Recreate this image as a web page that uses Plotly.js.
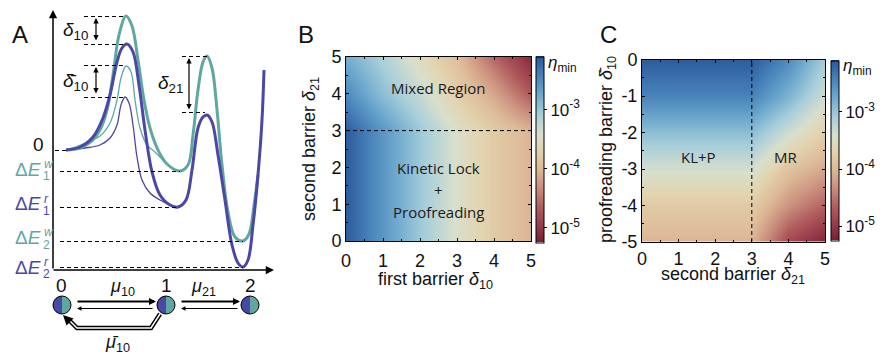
<!DOCTYPE html>
<html><head><meta charset="utf-8">
<script src="https://cdn.plot.ly/plotly-3.0.1.min.js"></script>
<style>html,body{margin:0;padding:0;background:#fff}</style>
</head><body><div id="chart" style="width:880px;height:356px"></div>
<script>
// ---------- Panel B data: log10(eta_min) vs first barrier (x) and second barrier (y)
const delta10 = [0, 1, 2, 3, 4, 5];
const delta21 = [0, 1, 2, 3, 4, 5];
const logEtaB = [
  [-2.15, -2.6, -3.05, -3.45, -3.8, -4.05],
  [-2.15, -2.6, -3.05, -3.45, -3.8, -4.05],
  [-2.15, -2.6, -3.05, -3.45, -3.8, -4.05],
  [-2.15, -2.6, -3.05, -3.45, -3.8, -4.05],
  [-2.5, -2.95, -3.3, -3.75, -4.15, -4.7],
  [-2.8, -3.15, -3.55, -3.95, -4.6, -5.15]
];
// ---------- Panel C data: log10(eta_min) vs second barrier (x) and proofreading barrier (y)
const delta21C = [0, 1, 2, 3, 4, 5];
const deltaBar10 = [-5, -4, -3, -2, -1, 0];
const logEtaC = [
  [-4.05, -4.05, -4.05, -4.05, -4.85, -5.2],
  [-3.8, -3.8, -3.8, -3.8, -4.3, -4.65],
  [-3.4, -3.4, -3.4, -3.4, -3.9, -4.15],
  [-2.95, -2.95, -2.95, -2.95, -3.35, -3.75],
  [-2.45, -2.45, -2.45, -2.45, -2.85, -3.35],
  [-2.15, -2.15, -2.15, -2.15, -2.5, -3.1]
];
const cbTickVals = [-3, -4, -5];
const cbTickText = ['10<sup>-3</sup>', '10<sup>-4</sup>', '10<sup>-5</sup>'];
const axisTicks = [0, 1, 2, 3, 4, 5];
const axisTickText = ['0', '1', '2', '3', '4', '5'];
const cTickVals = [-5, -4, -3, -2, -1, 0];
const cTickText = ['-5', '-4', '-3', '-2', '-1', '0'];

// ---------- Panel A: energy landscape (reaction coordinate, energy in arbitrary units)
const wrongX  = [66,80,92,100,107,113,119,126,132,138,144,150,158,167,180,188,193,198,203,207,212,217,222,228,235,243,249,254,258];
const wrongE  = [0,0.2,0.9,2.0,4.0,7.5,11.5,13.4,12.4,9.0,5.0,2.2,0,-1.4,-2.1,-1.5,1.5,6.0,8.8,9.4,8.2,4.0,-1.5,-6.2,-8.7,-9.1,-8.4,-5.5,-2.5];
const rightX  = [66,80,93,103,110,117,122,127,133,139,145,152,160,170,178,186,192,198,203,207,212,218,225,232,238,243,248,253,258,262,264];
const rightE  = [0,0.3,1.3,3.2,5.5,8.8,10.2,10.6,9.8,6.5,2.0,-2.2,-4.5,-5.5,-5.7,-5.0,-2.0,2.2,3.3,3.5,2.8,-0.5,-5.0,-9.5,-11.3,-11.7,-11.0,-7.5,-2.5,3.0,8.0];
const wrongPX = [66,83,100,110,117,121,126,131,135,140,147,155,163,172,180];
const wrongPE = [0,0.6,1.4,2.7,5.0,7.2,8.4,7.8,5.0,2.2,0.5,-0.2,-1.0,-1.8,-2.1];
const rightPX = [66,85,100,110,117,121,125,129,133,137,142,150,160,170,178];
const rightPE = [0,0.2,0.5,1.2,2.5,4.5,5.3,4.7,2.5,-0.7,-3.0,-4.3,-5.0,-5.5,-5.7];
const stateX = [62, 166, 250];
const stateLabels = ['0', '1', '2'];

const TEAL = '#5fa8a1', PURPLE = '#4b47a6';
const E = py => (150 - py) / 10;           // layout helper: pixel row -> landscape unit
const FONT = 'Liberation Sans, Arial, sans-serif';

const cscale = [
  [0, '#7a2035'], [0.08, '#953848'], [0.18, '#b05a5c'], [0.3, '#cc9280'],
  [0.4, '#debb98'], [0.5, '#e3d4b0'], [0.58, '#d8dfcc'], [0.68, '#a8cfda'],
  [0.8, '#6aa6cc'], [0.9, '#4680b8'], [1, '#285698']
];

function cbar(x, y, len) {
  return {x: x, xanchor: 'left', xpad: 0, ypad: 0, y: y, yanchor: 'middle', len: len,
    lenmode: 'fraction', thickness: 8, outlinewidth: 1, outlinecolor: '#000',
    tickvals: cbTickVals, ticktext: cbTickText, ticks: 'outside', ticklen: 3,
    tickcolor: '#000', tickfont: {family: FONT, size: 17, color: '#111'}};
}

const traces = [
  {type: 'heatmap', x: delta10, y: delta21, z: logEtaB, xaxis: 'x', yaxis: 'y',
   colorscale: cscale, zmin: -5.25, zmax: -2.1, zsmooth: 'best',
   colorbar: cbar(536/880, 1 - 149.5/356, 186/356), hoverinfo: 'skip'},
  {type: 'heatmap', x: delta21C, y: deltaBar10, z: logEtaC, xaxis: 'x2', yaxis: 'y2',
   colorscale: cscale, zmin: -5.25, zmax: -2.1, zsmooth: 'best',
   colorbar: cbar(831/880, 1 - 150.5/356, 180/356), hoverinfo: 'skip'},
  {type: 'scatter', mode: 'lines', x: wrongPX, y: wrongPE, xaxis: 'x3', yaxis: 'y3',
   line: {color: TEAL, width: 1.3, shape: 'spline'}},
  {type: 'scatter', mode: 'lines', x: rightPX, y: rightPE, xaxis: 'x3', yaxis: 'y3',
   line: {color: PURPLE, width: 1.3, shape: 'spline'}},
  {type: 'scatter', mode: 'lines', x: wrongX, y: wrongE, xaxis: 'x3', yaxis: 'y3',
   line: {color: TEAL, width: 3, shape: 'spline'}},
  {type: 'scatter', mode: 'lines', x: rightX, y: rightE, xaxis: 'x3', yaxis: 'y3',
   line: {color: PURPLE, width: 3, shape: 'spline'}}
];

function hmAxis(domain, anchor, vals, text, standoff) {
  return {domain: domain, anchor: anchor, range: [Math.min(...vals), Math.max(...vals)],
    tickvals: vals, ticktext: text, ticks: 'inside', ticklen: 3, tickcolor: '#000',
    ticklabelstandoff: standoff || 0,
    showline: true, linecolor: '#000', linewidth: 1, mirror: 'ticks',
    showgrid: false, zeroline: false, tickfont: {family: FONT, size: 18, color: '#111'},
    minor: {ticks: 'inside', ticklen: 2, tickcolor: '#000', dtick: 0.5}};
}

const shapes = [];
const ann = [];
const dash = (x0, y0, x1, y1, ref) => shapes.push({type: 'line', xref: ref[0], yref: ref[1],
  x0: x0, y0: y0, x1: x1, y1: y1, line: {color: '#000', width: 1, dash: '4px,3px'}});

// heatmap boundaries
dash(0, 3, 5, 3, ['x', 'y']);
dash(3, -5, 3, 0, ['x2', 'y2']);

// Panel A dashed levels
const A = ['x3', 'y3'];
dash(55, E(150.5), 67, E(150.5), A);
dash(60, E(171.5), 180, E(171.5), A);
dash(60, E(207.5), 178, E(207.5), A);
dash(60, E(241.5), 243, E(241.5), A);
dash(60, E(267.5), 243, E(267.5), A);
dash(84, E(16.5), 126, E(16.5), A);
dash(84, E(44.5), 126, E(44.5), A);
dash(84, E(65.5), 124, E(65.5), A);
dash(84, E(97.5), 124, E(97.5), A);
dash(182, E(56.5), 207, E(56.5), A);
dash(182, E(112.5), 205, E(112.5), A);

// state circles
const K = 0.5523;
stateX.forEach(cx => {
  const r = 9, cy = 305;
  shapes.push({type: 'circle', xref: 'x3', yref: 'y3', x0: cx - r, x1: cx + r,
    y0: E(cy + r), y1: E(cy - r), fillcolor: TEAL, line: {width: 0}});
  const yt = E(cy - r), ym = E(cy), yb = E(cy + r), rk = K * r, rE = K * r / 10;
  shapes.push({type: 'path', xref: 'x3', yref: 'y3', fillcolor: PURPLE, line: {width: 0},
    path: `M ${cx},${yt} C ${cx - rk},${yt} ${cx - r},${ym + rE} ${cx - r},${ym} C ${cx - r},${ym - rE} ${cx - rk},${yb} ${cx},${yb} Z`});
  shapes.push({type: 'circle', xref: 'x3', yref: 'y3', x0: cx - r, x1: cx + r,
    y0: E(cy + r), y1: E(cy - r), line: {color: '#000', width: 1}});
});
// proofreading path (double line)
const pp = `M 160,${E(314)} L 151,${E(328)} L 77,${E(328)} L 69,${E(320)}`;
shapes.push({type: 'path', xref: 'x3', yref: 'y3', path: pp, line: {color: '#000', width: 4.5}});
shapes.push({type: 'path', xref: 'x3', yref: 'y3', path: pp, line: {color: '#fff', width: 1.5}});

const arrow = (x, y, ax, ay, w, size, both) => ann.push({xref: 'x3', yref: 'y3', axref: 'x3', ayref: 'y3',
  x: x, y: y, ax: ax, ay: ay, text: '', showarrow: true, arrowhead: 2, arrowsize: size,
  arrowwidth: w, arrowcolor: '#000', arrowside: both ? 'end+start' : 'end', startarrowhead: 2, startarrowsize: size});
// axes of panel A
arrow(53, E(10), 53, E(270), 1.5, 1.1, false);
arrow(274, E(270), 52, E(270), 1.5, 1.1, false);
// barrier double arrows
arrow(96, E(18), 96, E(42), 1.2, 0.9, true);
arrow(96, E(67), 96, E(95), 1.2, 0.9, true);
arrow(189, E(58), 189, E(111), 1.2, 0.9, true);
// kinetic arrows
arrow(156, E(301.5), 76, E(301.5), 2, 0.7, false);
arrow(77, E(308.5), 154, E(308.5), 1, 0.9, false);
arrow(240, E(301.5), 180, E(301.5), 2, 0.7, false);
arrow(181, E(308.5), 239, E(308.5), 1, 0.9, false);
arrow(63, E(315), 71, E(323), 2.2, 0.9, false);

const txt = (x, y, t, o) => ann.push(Object.assign({xref: 'paper', yref: 'paper', x: x / 880, y: 1 - y / 356,
  text: t, showarrow: false, xanchor: 'center', yanchor: 'middle',
  font: {family: FONT, size: 17, color: '#111'}}, o || {}));

// panel letters
txt(20, 34, 'A', {font: {family: FONT, size: 24, color: '#111'}});
txt(306, 34, 'B', {font: {family: FONT, size: 24, color: '#111'}});
txt(608, 35, 'C', {font: {family: FONT, size: 24, color: '#111'}});

// Panel A texts
txt(38, 144, '0', {font: {family: FONT, size: 19, color: '#111'}});
txt(75, 31, '<i>δ</i><sub>10</sub>', {font: {family: FONT, size: 19, color: '#111'}});
txt(75, 82, '<i>δ\u0304</i><sub>10</sub>', {font: {family: FONT, size: 19, color: '#111'}});
txt(170, 84, '<i>δ</i><sub>21</sub>', {font: {family: FONT, size: 19, color: '#111'}});
const dE = [[169, 164, 176, TEAL, 'w', '1'], [203.5, 199, 211, PURPLE, 'r', '1'],
            [237.5, 232, 245, TEAL, 'w', '2'], [267.5, 262, 274, PURPLE, 'r', '2']];
dE.forEach(d => {
  txt(43, d[0], 'Δ<i>E</i>', {xanchor: 'right', font: {family: FONT, size: 19, color: d[3]}});
  txt(42, d[1], '<i>' + d[4] + '</i>', {xanchor: 'left', font: {family: FONT, size: 12, color: d[3]}});
  txt(41, d[2], d[5], {xanchor: 'left', font: {family: FONT, size: 12, color: d[3]}});
});
stateX.forEach((x, i) => txt(x, 285, stateLabels[i], {font: {family: FONT, size: 19, color: '#111'}}));
txt(122, 287, '<i>μ</i><sub>10</sub>', {font: {family: FONT, size: 18, color: '#111'}});
txt(203, 287, '<i>μ</i><sub>21</sub>', {font: {family: FONT, size: 18, color: '#111'}});
txt(117, 343, '<i>μ\u0304</i><sub>10</sub>', {font: {family: FONT, size: 18, color: '#111'}});

// Panel B / C texts
const RF = {family: 'Open Sans, sans-serif', size: 15, color: '#1a1a1a'};
txt(438, 88, 'Mixed Region', {font: RF});
txt(438, 168, 'Kinetic Lock', {font: RF});
txt(438, 190, '+', {font: RF});
txt(438, 212, 'Proofreading', {font: RF});
txt(698, 157, 'KL+P', {font: RF});
txt(785, 157, 'MR', {font: RF});
txt(435, 280, 'first barrier <i>δ</i><sub>10</sub>', {font: {family: FONT, size: 18, color: '#111'}});
txt(310, 149, 'second barrier <i>δ</i><sub>21</sub>', {textangle: -90, font: {family: FONT, size: 18, color: '#111'}});
txt(733, 275, 'second barrier <i>δ</i><sub>21</sub>', {font: {family: FONT, size: 18, color: '#111'}});
txt(607, 150, 'proofreading barrier <i>δ\u0304</i><sub>10</sub>', {textangle: -90, font: {family: FONT, size: 18, color: '#111'}});
txt(546, 64, '<i>η</i><sub>min</sub>', {xanchor: 'left', font: {family: FONT, size: 17, color: '#111'}});
txt(841, 67, '<i>η</i><sub>min</sub>', {xanchor: 'left', font: {family: FONT, size: 17, color: '#111'}});

const layout = {
  width: 880, height: 356, margin: {l: 0, r: 0, t: 0, b: 0},
  paper_bgcolor: '#fff', plot_bgcolor: '#fff', showlegend: false,
  font: {family: FONT, color: '#111'},
  xaxis: hmAxis([346/880, 531/880], 'y', axisTicks, axisTickText, 3),
  yaxis: hmAxis([1 - 241/356, 1 - 57/356], 'x', axisTicks, axisTickText, 0),
  xaxis2: hmAxis([642/880, 825/880], 'y2', axisTicks, axisTickText, 0),
  yaxis2: hmAxis([1 - 242/356, 1 - 59.5/356], 'x2', cTickVals, cTickText, 0),
  xaxis3: {domain: [0, 290/880], anchor: 'y3', range: [0, 290], visible: false, fixedrange: true},
  yaxis3: {domain: [0, 1], anchor: 'x3', range: [E(356), E(0)], visible: false, fixedrange: true},
  shapes: shapes, annotations: ann
};
Plotly.newPlot('chart', traces, layout, {staticPlot: true});
</script></body></html>
